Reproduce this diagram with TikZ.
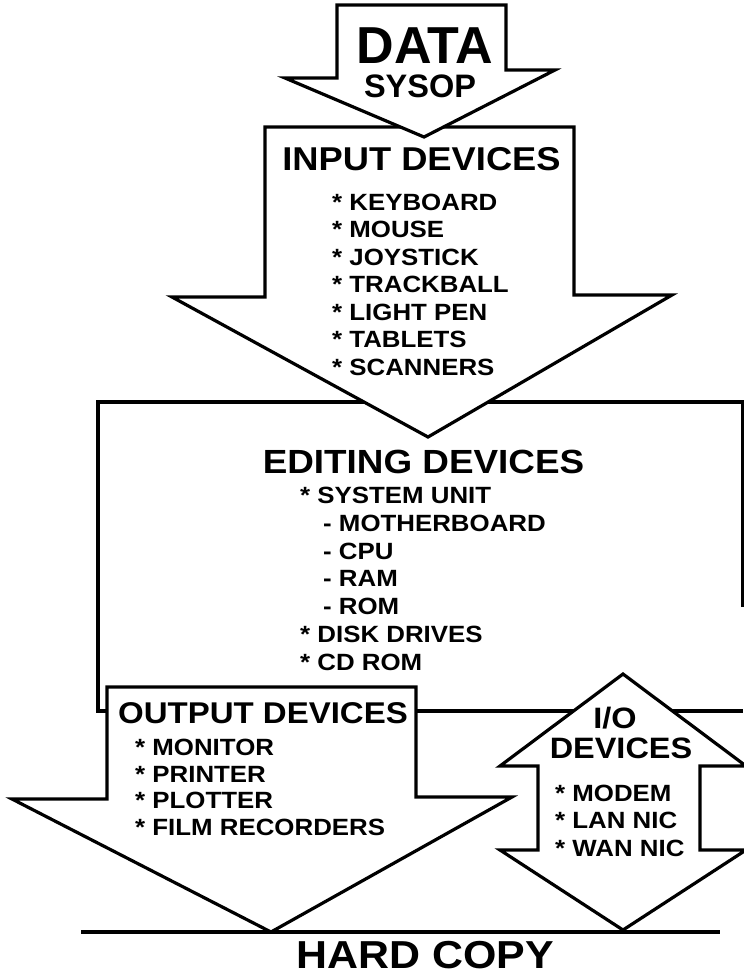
\documentclass[tikz,border=0pt]{standalone}
\usepackage{fontspec}
\newfontfamily\nf{Liberation Sans}
\newfontfamily\wf[FakeStretch=1.1]{Liberation Sans}
\begin{document}
\begin{tikzpicture}[x=1pt,y=-1pt,
  shp/.style={draw=black, fill=white, line width=3.2pt, line join=miter},
  edge/.style={draw=black, line width=3.2pt, line join=miter},
  hd/.style={anchor=base, inner sep=0pt},
  itm/.style={anchor=base west, inner sep=0pt, font=\wf\bfseries\fontsize{23.5}{23.5}\selectfont}]
\useasboundingbox (0,0) rectangle (744,978);

% editing box
\draw[edge] (743,607) -- (743,402) -- (98,402) -- (98,711) -- (743,711);

% output arrow
\draw[shp] (107,687) -- (416,687) -- (416,797) -- (512,797) -- (271,932) -- (12,799) -- (107,799) -- cycle;

% I/O double arrow (cut off at the right edge)
\begin{scope}
\clip (0,0) rectangle (744,978);
\draw[shp] (623,674) -- (746,766) -- (700,766) -- (700,850) -- (746,850) -- (623,930)
  -- (500,850) -- (538,850) -- (538,766) -- (500,766) -- cycle;
\end{scope}

% input arrow
\draw[shp] (265,127) -- (574,127) -- (574,295) -- (672,295) -- (428,437) -- (172,297) -- (265,297) -- cycle;

% top arrow
\draw[shp] (337,5) -- (506,5) -- (506,70) -- (555,70) -- (424,137) -- (285,78) -- (337,78) -- cycle;

% base line
\coordinate (bl) at (81,932);
\coordinate (br) at (720,932);
\draw[edge] (bl) -- (br);

% texts
\node[hd, font=\nf\bfseries\fontsize{52}{52}\selectfont] (data) at (425,63) {DATA};
\node[hd, font=\nf\bfseries\fontsize{32.5}{32.5}\selectfont] (sysop) at (420,97) {SYSOP};

\node[hd, font=\wf\bfseries\fontsize{33}{33}\selectfont] (inh) at (421.5,170) {INPUT DEVICES};
\node[itm] (i1) at (332,210.4) {* KEYBOARD};
\node[itm] (i2) at (332,237.9) {* MOUSE};
\node[itm] (i3) at (332,265.4) {* JOYSTICK};
\node[itm] (i4) at (332,292.9) {* TRACKBALL};
\node[itm] (i5) at (332,320.4) {* LIGHT PEN};
\node[itm] (i6) at (332,347.9) {* TABLETS};
\node[itm] (i7) at (332,375.4) {* SCANNERS};

\node[hd, font=\wf\bfseries\fontsize{33.5}{33.5}\selectfont] (edh) at (423.5,473) {EDITING DEVICES};
\node[itm] (e1) at (300,503.4) {* SYSTEM UNIT};
\node[itm] (e2) at (323,531.2) {- MOTHERBOARD};
\node[itm] (e3) at (323,559.0) {- CPU};
\node[itm] (e4) at (323,586.8) {- RAM};
\node[itm] (e5) at (323,614.6) {- ROM};
\node[itm] (e6) at (300,642.4) {* DISK DRIVES};
\node[itm] (e7) at (300,670.2) {* CD ROM};

\node[hd, font=\wf\bfseries\fontsize{30}{30}\selectfont] (outh) at (263,723.5) {OUTPUT DEVICES};
\node[itm] (o1) at (135,755.4) {* MONITOR};
\node[itm] (o2) at (135,782.1) {* PRINTER};
\node[itm] (o3) at (135,808.8) {* PLOTTER};
\node[itm] (o4) at (135,835.5) {* FILM RECORDERS};

\node[hd, font=\wf\bfseries\fontsize{29.5}{29.5}\selectfont] (ioh1) at (615,728.5) {I/O};
\node[hd, font=\wf\bfseries\fontsize{29.5}{29.5}\selectfont] (ioh2) at (621,758.5) {DEVICES};
\node[itm] (io1) at (555,801.4) {* MODEM};
\node[itm] (io2) at (555,828.4) {* LAN NIC};
\node[itm] (io3) at (555,856.4) {* WAN NIC};

\node[hd, font=\wf\bfseries\fontsize{39}{39}\selectfont] (hc) at (425.5,968) {HARD COPY};
\end{tikzpicture}
\end{document}
